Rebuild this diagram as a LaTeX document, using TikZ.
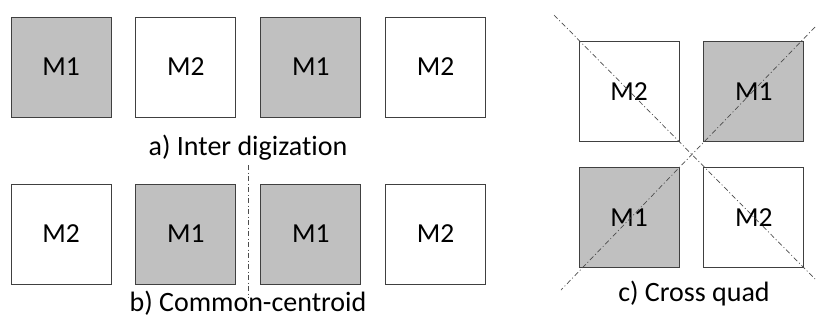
\documentclass[tikz,border=0pt]{standalone}
\usepackage{fontspec}
\setmainfont{Carlito}[Ligatures=NoCommon]
\usetikzlibrary{positioning}
\definecolor{cellgray}{HTML}{C0C0C0}
\definecolor{edgegray}{HTML}{404040}
\tikzstyle{cell} = [draw=edgegray, line width=0.9pt, rectangle, inner sep=0pt,
    minimum size=100pt, font=\fontsize{27.5}{32}\selectfont]
\tikzstyle{mone} = [cell, fill=cellgray]
\tikzstyle{mtwo} = [cell, fill=white]
\tikzstyle{caption} = [font=\fontsize{28}{32}\selectfont]
\tikzstyle{axis} = [draw=black!70, line width=0.7pt,
    dash pattern=on 5pt off 2.5pt on 1pt off 2.5pt]

\begin{document}
\begin{tikzpicture}[x=1pt, y=-1pt, node distance=24pt]
    \useasboundingbox (0,0) rectangle (816,325);
    % a) inter digization
    \node [mone] at (61,67) (a1) {M1};
    \node [mtwo, right=of a1] (a2) {M2};
    \node [mone, right=of a2] (a3) {M1};
    \node [mtwo, right=of a3] (a4) {M2};
    \node [caption] at (248,148) (capa) {a) Inter digization};

    % b) common-centroid
    \node [mtwo] at (61,234) (b1) {M2};
    \node [mone, right=of b1] (b2) {M1};
    \node [mone, right=of b2] (b3) {M1};
    \node [mtwo, right=of b3] (b4) {M2};
    \node [caption] at (248,303) (capb) {b) Common-centroid};
    \coordinate (symtop) at (248,165);
    \coordinate (symbot) at (248,298);

    % c) cross quad
    \node [mtwo] at (629,91.5) (c1) {M2};
    \node [mone, right=of c1] (c2) {M1};
    \node [mone, below=25pt of c1] (c3) {M1};
    \node [mtwo, right=of c3] (c4) {M2};
    \node [caption] at (694,294) (capc) {c) Cross quad};
    \coordinate (d1s) at (554,15);
    \coordinate (d1e) at (815,279);
    \coordinate (d2s) at (815,27);
    \coordinate (d2e) at (561,290);

    \draw [axis] (symtop) -- (symbot);
    \draw [axis] (d1s) -- (d1e);
    \draw [axis] (d2s) -- (d2e);
\end{tikzpicture}
\end{document}
